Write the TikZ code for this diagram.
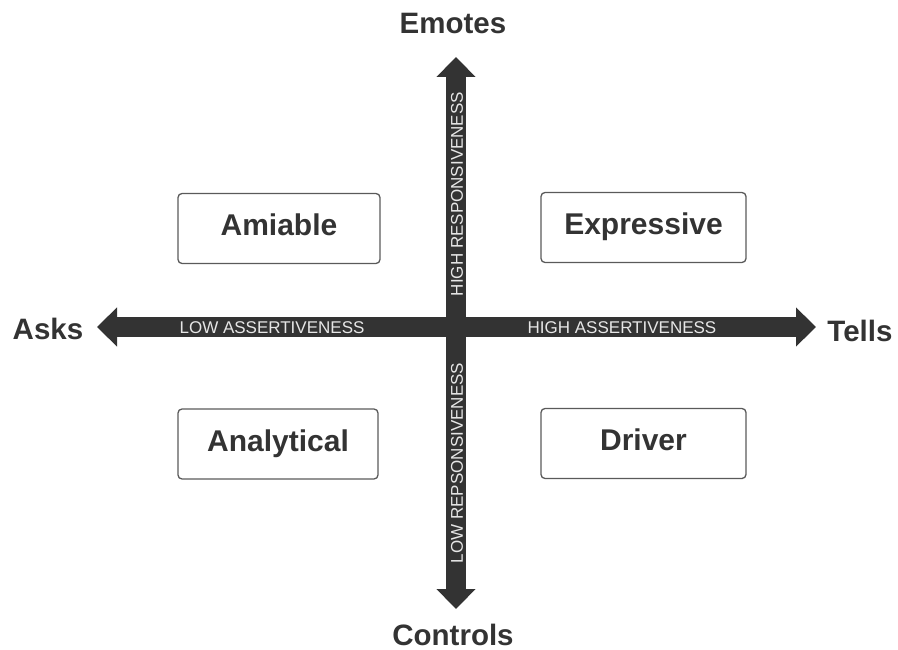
\documentclass[tikz,border=0pt]{standalone}
\usepackage{fontspec}
\setmainfont{Liberation Sans}
\usetikzlibrary{arrows.meta}
\definecolor{axis}{HTML}{333333}
\definecolor{boxline}{HTML}{5A5A5A}
\definecolor{axistext}{HTML}{E6E6E6}
\tikzset{
  axisarrow/.style={draw=axis, line width=20pt,
    {Triangle[width=38pt,length=20pt]}-{Triangle[width=38pt,length=20pt]}},
  stylebox/.style={draw=boxline, line width=1.3pt, rounded corners=4pt,
    minimum width=202pt, minimum height=70pt, inner sep=0pt,
    text height=21pt, text depth=7pt,
    font=\fontsize{30}{32}\selectfont\bfseries, text=axis},
  pole/.style={font=\fontsize{29.5}{32}\selectfont\bfseries, text=axis, inner sep=0pt},
  axislabel/.style={font=\fontsize{17}{19}\selectfont, text=axistext, inner sep=0pt}
}
\begin{document}
\begin{tikzpicture}[x=1pt,y=-1pt]
  \useasboundingbox (0,0) rectangle (898,650);

  % axis end points
  \coordinate (w) at (97,327);
  \coordinate (e) at (816,327);
  \coordinate (n) at (456,57);
  \coordinate (s) at (456,609);

  \draw[axisarrow] (w) -- (e);
  \draw[axisarrow] (n) -- (s);

  % axis captions
  \node[axislabel] (lowA) at (272,328) {LOW ASSERTIVENESS};
  \node[axislabel] (highA) at (622,328) {HIGH ASSERTIVENESS};
  \node[axislabel, rotate=90] (highR) at (457,194) {HIGH RESPONSIVENESS};
  \node[axislabel, rotate=90] (lowR) at (457,463) {LOW REPSONSIVENESS};

  % poles
  \node[pole] (emotes) at (453,23) {Emotes};
  \node[pole] (controls) at (453,635) {Controls};
  \node[pole] (asks) at (48,329) {Asks};
  \node[pole] (tells) at (860,331) {Tells};

  % quadrants
  \node[stylebox] (amiable) at (279,228.5) {Amiable};
  \node[stylebox, minimum width=205pt] (expressive) at (643.5,227.5) {Expressive};
  \node[stylebox, minimum width=200pt] (analytical) at (278,444) {Analytical};
  \node[stylebox, minimum width=205pt] (driver) at (643.5,443.5) {Driver};
\end{tikzpicture}
\end{document}
